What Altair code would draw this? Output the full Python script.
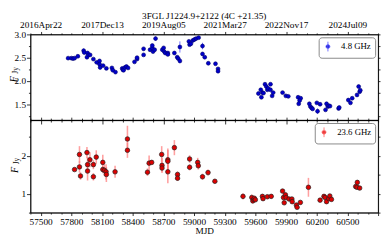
import altair as alt
import pandas as pd

# ---------------- data ----------------
mjd_48 = [57769, 57801, 57817, 57832, 57864, 57921, 57927, 57953, 57959, 57969,
          57984, 58016, 58048, 58076, 58076, 58082, 58111, 58143, 58197, 58206,
          58232, 58298, 58305, 58311, 58324, 58339, 58355, 58418, 58443, 58443,
          58507, 58507, 58570, 58592, 58592, 58599, 58615, 58624, 58690, 58703,
          58709, 58719, 58744, 58744, 58808, 58836, 58846, 58862, 58862, 58950,
          58957, 58970, 58988, 59004, 59020, 59045, 59083, 59083, 59105, 59140,
          59210, 59235, 59235, 59630, 59653, 59659, 59669, 59680, 59694, 59707,
          59717, 59725, 59748, 59748, 59764, 59774, 59866, 59898, 59922, 60018,
          60043, 60033, 60024, 60128, 60138, 60150, 60160, 60201, 60208, 60233,
          60286, 60296, 60309, 60318, 60330, 60414, 60420, 60509, 60530, 60547,
          60594, 60610, 60620, 60626]
flux_48 = [2.49, 2.49, 2.48, 2.49, 2.53, 2.65, 2.61, 2.51, 2.60, 2.56,
           2.56, 2.47, 2.40, 2.43, 2.36, 2.29, 2.33, 2.27, 2.28, 2.23,
           2.19, 2.27, 2.24, 2.23, 2.29, 2.31, 2.28, 2.41, 2.47, 2.50,
           2.69, 2.56, 2.67, 2.71, 2.76, 2.63, 2.67, 2.91, 2.67, 2.71,
           2.63, 2.60, 2.60, 2.57, 2.60, 2.51, 2.48, 2.73, 2.43, 2.85,
           2.78, 2.80, 2.87, 2.89, 2.91, 2.93, 2.75, 2.58, 2.51, 2.38,
           2.37, 2.26, 2.21, 1.73, 1.81, 1.65, 1.75, 1.74, 1.93, 1.88,
           1.81, 1.84, 1.93, 1.81, 1.68, 1.75, 1.75, 1.68, 1.67, 1.65,
           1.63, 1.58, 1.51, 1.51, 1.45, 1.42, 1.40, 1.53, 1.35, 1.50,
           1.38, 1.51, 1.45, 1.47, 1.46, 1.41, 1.43, 1.59, 1.53, 1.63,
           1.70, 1.88, 1.77, 1.80]
err_48 = [0.01, 0.01, 0.01, 0.01, 0.01, 0.05, 0.02, 0.02, 0.02, 0.02,
          0.01, 0.01, 0.01, 0.01, 0.02, 0.02, 0.01, 0.02, 0.02, 0.03,
          0.04, 0.02, 0.02, 0.03, 0.02, 0.02, 0.02, 0.02, 0.02, 0.02,
          0.04, 0.02, 0.02, 0.03, 0.02, 0.02, 0.02, 0.05, 0.02, 0.02,
          0.02, 0.02, 0.02, 0.02, 0.02, 0.02, 0.04, 0.12, 0.05, 0.03,
          0.02, 0.02, 0.02, 0.02, 0.02, 0.02, 0.07, 0.04, 0.02, 0.02,
          0.02, 0.02, 0.02, 0.02, 0.02, 0.03, 0.02, 0.02, 0.03, 0.02,
          0.02, 0.02, 0.02, 0.02, 0.02, 0.02, 0.02, 0.02, 0.02, 0.02,
          0.02, 0.02, 0.02, 0.02, 0.02, 0.03, 0.03, 0.02, 0.06, 0.02,
          0.02, 0.02, 0.02, 0.02, 0.02, 0.02, 0.02, 0.02, 0.02, 0.02,
          0.02, 0.03, 0.02, 0.02]

mjd_236 = [57832, 57880, 57880, 57890, 57953, 57959, 57959, 57982, 58016, 58016,
           58044, 58108, 58108, 58124, 58140, 58143, 58228, 58349, 58349, 58545,
           58561, 58586, 58684, 58687, 58687, 58744, 58744, 58744, 58808, 58839,
           58839, 58957, 58957, 59036, 59042, 59083, 59137, 59204, 59479, 59565,
           59575, 59584, 59590, 59600, 59669, 59675, 59717, 59755, 59866, 59875,
           59882, 59894, 59901, 59929, 59957, 59960, 60001, 60008, 60040, 60119,
           60233, 60271, 60282, 60296, 60318, 60328, 60344, 60581, 60594, 60597,
           60620]
flux_236 = [1.64, 2.04, 1.71, 1.47, 2.09, 1.77, 1.60, 1.90, 1.77, 1.45,
            1.97, 1.83, 1.64, 1.62, 1.58, 1.51, 1.58, 2.45, 2.15, 1.57,
            1.81, 1.83, 2.04, 1.75, 1.68, 1.90, 1.86, 1.58, 2.22, 1.51,
            1.41, 1.92, 1.70, 1.83, 1.74, 1.45, 1.56, 1.33, 0.93, 0.90,
            0.81, 0.85, 0.88, 0.84, 0.93, 0.87, 0.92, 0.93, 1.07, 0.90,
            0.76, 0.97, 0.90, 0.86, 0.86, 0.79, 0.70, 0.64, 0.77, 1.17,
            0.83, 0.93, 0.90, 0.79, 0.87, 0.94, 0.85, 1.19, 1.17, 1.30,
            1.15]
err_236 = [0.04, 0.22, 0.15, 0.10, 0.15, 0.20, 0.25, 0.20, 0.12, 0.10,
           0.18, 0.20, 0.10, 0.15, 0.20, 0.20, 0.16, 0.35, 0.20, 0.10,
           0.20, 0.05, 0.22, 0.20, 0.10, 0.30, 0.30, 0.30, 0.20, 0.08,
           0.07, 0.10, 0.08, 0.12, 0.10, 0.08, 0.08, 0.06, 0.08, 0.08,
           0.06, 0.06, 0.05, 0.05, 0.05, 0.04, 0.04, 0.05, 0.05, 0.15,
           0.05, 0.06, 0.05, 0.04, 0.04, 0.04, 0.04, 0.04, 0.06, 0.25,
           0.04, 0.06, 0.04, 0.05, 0.04, 0.04, 0.04, 0.05, 0.04, 0.06,
           0.05]

band_labels = ["4.8 GHz", "23.6 GHz"]
top_tick_values = [57500, 58100, 58700, 59300, 59900, 60500]
top_tick_labels = ["2016Apr22", "2017Dec13", "2019Aug05", "2021Mar27", "2022Nov17", "2024Jul09"]
bottom_tick_values = [57500, 57800, 58100, 58400, 58700, 59000, 59300, 59600, 59900, 60200, 60500]
title_text = "3FGL J1224.9+2122 (4C +21.35)"
x_title = "MJD"

FONT = "Liberation Serif"
W = 357
H_TOP = 88
H_BOT = 95

def make_df(m, f, e, band):
    df = pd.DataFrame({"mjd": m, "flux": f, "err": e})
    df["lo"] = df["flux"] - df["err"]
    df["hi"] = df["flux"] + df["err"]
    df["band"] = band
    return df

df48 = make_df(mjd_48, flux_48, err_48, band_labels[0])
df236 = make_df(mjd_236, flux_236, err_236, band_labels[1])

xs = alt.Scale(domain=[57400, 60800], nice=False, zero=False)
ys_top = alt.Scale(domain=[1.16, 3.0], nice=False, zero=False)
ys_bot = alt.Scale(domain=[0.5, 2.95], nice=False, zero=False)

minor_x = list(range(57400, 60801, 100))

top_map = "{" + ",".join(f"'{v}':'{l}'" for v, l in zip(top_tick_values, top_tick_labels)) + "}"
bot_map = "{" + ",".join(f"'{v}':'{v}'" for v in bottom_tick_values) + "}"

common_axis = dict(labelFont=FONT, labelFontSize=9.5, labelColor="black",
                   tickColor="black", domainColor="black", grid=False,
                   labelOverlap=False, tickWidth=0.8, domainWidth=0.8)

MAJ600 = "(datum.value - 57500) % 600 === 0"
MAJ300 = "(datum.value - 57500) % 300 === 0"
HALF = "abs(datum.value*2 - round(datum.value*2)) < 1e-6"
INT = "abs(datum.value - round(datum.value)) < 1e-6"

x_top_dates = alt.Axis(orient="top", values=minor_x, title=None,
                       labelExpr=f"{top_map}[''+datum.value] || ''",
                       tickSize={"condition": {"test": MAJ600, "value": 3}, "value": 1.5},
                       labelPadding=2, **common_axis)
x_top_bottom = alt.Axis(orient="bottom", values=minor_x, title=None, labels=False,
                        tickSize={"condition": {"test": MAJ600, "value": 4}, "value": 2},
                        **common_axis)
x_bot_bottom = alt.Axis(orient="bottom", values=minor_x, title=x_title,
                        labelExpr=f"{bot_map}[''+datum.value] || ''",
                        tickSize={"condition": {"test": MAJ300, "value": 3}, "value": 1.5},
                        labelPadding=1, titleFont=FONT, titleFontSize=9.5, titleFontWeight="normal",
                        titleColor="black", titlePadding=0, **common_axis)
x_bot_top = alt.Axis(orient="top", values=minor_x, title=None, labels=False,
                     tickSize={"condition": {"test": MAJ300, "value": 3}, "value": 2},
                     **common_axis)

top_y_vals = [1.25, 1.5, 1.75, 2.0, 2.25, 2.5, 2.75, 3.0]
y_top_left = alt.Axis(orient="left", values=top_y_vals, title=None,
                      labelExpr=f"{HALF} ? format(datum.value, '.1f') : ''",
                      tickSize={"condition": {"test": HALF, "value": 4}, "value": 2},
                      labelPadding=1, **common_axis)
y_top_right = alt.Axis(orient="right", values=top_y_vals, title=None, labels=False,
                       tickSize=2, **common_axis)
bot_y_vals = [0.5, 1.0, 1.5, 2.0, 2.5]
y_bot_left = alt.Axis(orient="left", values=bot_y_vals, title=None,
                      labelExpr=f"{INT} ? format(datum.value, 'd') : ''",
                      tickSize={"condition": {"test": INT, "value": 4}, "value": 2},
                      labelPadding=1, **common_axis)
y_bot_right = alt.Axis(orient="right", values=bot_y_vals, title=None, labels=False,
                       tickSize=2, **common_axis)

SYM = "M0,-1L0,1M-0.4,0A0.4,0.4,0,1,0,0.4,0A0.4,0.4,0,1,0,-0.4,0Z"

def legend(stroke_col):
    return alt.Legend(title=None, orient="top-right", offset=3, strokeColor="#888888",
                      cornerRadius=3, fillColor="white", padding=4,
                      labelFont=FONT, labelFontSize=9, labelColor="black",
                      symbolType=SYM, symbolSize=100, symbolStrokeColor=stroke_col,
                      symbolStrokeWidth=1, labelOffset=8)

def ylabel(x0, y0):
    f = alt.Chart(pd.DataFrame({"t": ["F"]})).mark_text(
        font=FONT, fontSize=10.5, fontStyle="italic", angle=270, align="center", baseline="middle"
    ).encode(x=alt.value(x0), y=alt.value(y0), text="t:N")
    j = alt.Chart(pd.DataFrame({"t": ["Jy"]})).mark_text(
        font=FONT, fontSize=7.5, angle=270, align="center", baseline="middle"
    ).encode(x=alt.value(x0 + 2.5), y=alt.value(y0 - 9), text="t:N")
    return [f, j]

# ---- top panel (4.8 GHz)
err_top = alt.Chart(df48).mark_rule(color="#7070ff", strokeWidth=1).encode(
    x=alt.X("mjd:Q", scale=xs, axis=x_top_bottom),
    y=alt.Y("lo:Q", scale=ys_top, axis=y_top_right),
    y2="hi:Q",
)
pts_top = alt.Chart(df48).mark_point(filled=True, size=16, opacity=1, stroke="#00006a", strokeWidth=0.6).encode(
    x=alt.X("mjd:Q", scale=xs, axis=x_top_dates),
    y=alt.Y("flux:Q", scale=ys_top, axis=y_top_left),
    color=alt.Color("band:N", scale=alt.Scale(domain=[band_labels[0]], range=["#0000cc"]),
                    legend=legend("#7070ff")),
)
top = alt.layer(err_top, pts_top, *ylabel(-17, 46)).properties(
    width=W, height=H_TOP,
    title=alt.Title(title_text, font=FONT, fontSize=9.5, fontWeight="normal", color="black",
                    anchor="middle", frame="group", offset=-1),
)

# ---- bottom panel (23.6 GHz)
err_bot = alt.Chart(df236).mark_rule(color="#ff8080", strokeWidth=1.6, opacity=0.75).encode(
    x=alt.X("mjd:Q", scale=xs, axis=x_bot_top),
    y=alt.Y("lo:Q", scale=ys_bot, axis=y_bot_right),
    y2="hi:Q",
)
pts_bot = alt.Chart(df236).mark_point(filled=True, size=22, opacity=1, stroke="#222222", strokeWidth=0.7).encode(
    x=alt.X("mjd:Q", scale=xs, axis=x_bot_bottom),
    y=alt.Y("flux:Q", scale=ys_bot, axis=y_bot_left),
    color=alt.Color("band:N", scale=alt.Scale(domain=[band_labels[1]], range=["#dd0000"]),
                    legend=legend("#ff8080")),
)
bot = alt.layer(err_bot, pts_bot, *ylabel(-16, 51)).properties(width=W, height=H_BOT)

chart = alt.vconcat(top, bot, spacing=0, bounds="flush").resolve_scale(
    color="independent"
).resolve_legend(color="independent").configure_view(
    stroke="black", strokeWidth=0.8
).properties(padding={"left": 0, "top": 0, "right": 0, "bottom": 0})

chart.save("out.html", embed_options={"renderer": "svg", "actions": False})
